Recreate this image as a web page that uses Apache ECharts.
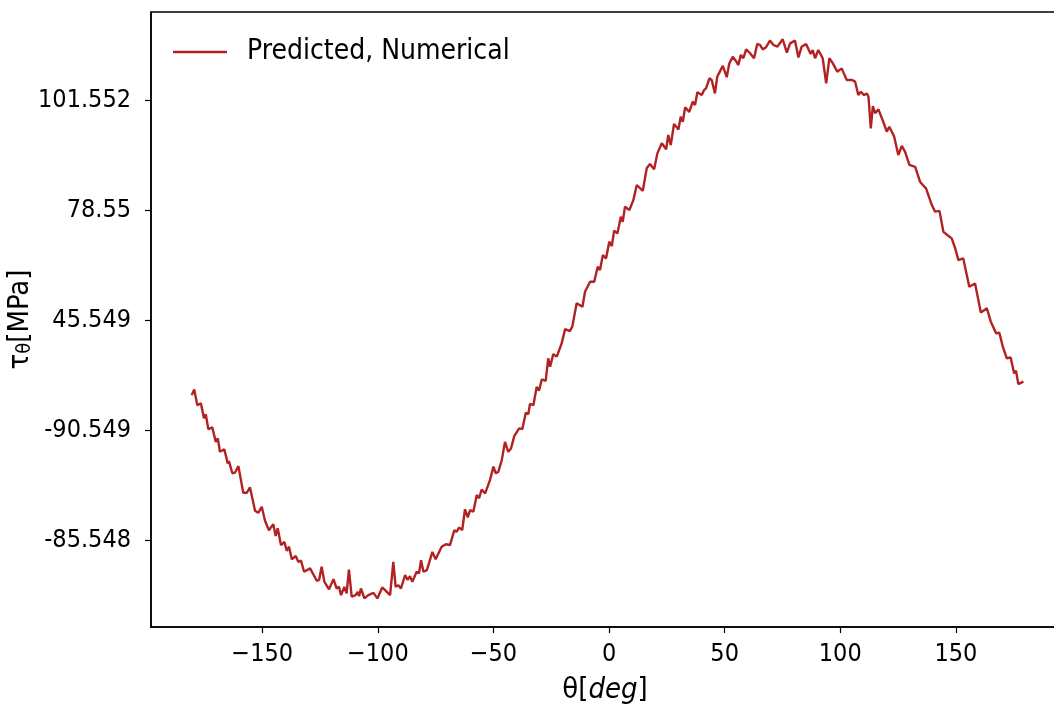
<!DOCTYPE html>
<html>
<head>
<meta charset="utf-8">
<script src="https://cdn.jsdelivr.net/npm/echarts@6/dist/echarts.min.js"></script>
<style>
html,body{margin:0;padding:0;background:#fff;}
#chart{width:1054px;height:713px;}
</style>
</head>
<body>
<div id="chart"></div>
<script>
// θ [deg]
const thetaDeg = [
-180.5,-179.4,-178.1,-176.5,-175.2,-174.4,-173.3,-171.6,-170.1,-169.2,-168.3,-166.4,-164.9,-164.4,-162.9,-161.8,-160.3,-158.2,-156.7,-155.3,
-153.1,-151.7,-150.2,-148.8,-147.1,-145.2,-144.2,-143.3,-141.9,-140.4,-139.4,-138.4,-137.2,-135.5,-134.4,-133.2,-131.9,-129.3,-126.4,-125.4,
-124.3,-123.1,-121.1,-119.2,-117.8,-116.8,-115.9,-114.5,-113.5,-112.5,-111.3,-109.6,-108.7,-108.1,-107.3,-105.8,-104.1,-101.9,-100.2,-98.1,
-96.1,-94.7,-93.3,-92.3,-91.1,-90.0,-88.2,-87.1,-86.1,-85.1,-83.2,-82.2,-81.3,-80.3,-78.8,-77.9,-76.4,-75.0,-72.4,-70.6,
-68.8,-66.9,-65.9,-64.9,-63.5,-62.3,-61.1,-60.1,-58.7,-57.2,-56.2,-55.1,-53.6,-51.5,-50.0,-49.0,-47.9,-46.4,-45.0,-43.6,
-42.4,-41.0,-38.9,-37.5,-36.0,-34.9,-34.2,-32.7,-31.3,-30.3,-29.1,-27.4,-26.3,-25.5,-24.1,-22.6,-20.5,-19.0,-16.9,-15.9,
-14.0,-11.5,-10.4,-8.2,-6.4,-4.9,-3.9,-2.7,-1.3,0.1,1.2,2.2,3.6,5.1,5.9,6.9,8.8,10.5,12.0,14.6,
16.3,17.7,19.5,20.9,22.8,24.7,25.6,26.7,28.1,30.0,31.0,31.9,32.9,34.7,36.2,37.2,38.2,40.1,41.1,42.0,
43.4,44.4,45.8,46.8,49.2,50.9,52.0,53.5,55.2,55.9,57.0,58.1,59.3,61.0,62.7,64.1,65.3,66.5,67.9,69.6,
71.1,72.8,75.1,76.9,78.3,80.4,81.9,83.3,85.2,87.2,88.1,89.1,90.5,92.4,93.9,95.3,96.8,98.7,100.6,102.8,
105.0,106.4,107.8,108.9,110.3,111.5,112.2,113.2,114.1,115.1,116.5,118.6,120.1,121.2,123.3,125.1,126.6,128.0,129.9,132.4,
134.5,135.7,137.1,139.6,141.0,142.9,144.6,146.3,148.2,149.7,151.1,153.2,155.8,158.3,160.8,163.4,165.1,167.4,168.8,170.3,
172.0,173.7,175.2,176.0,177.0,179.2
];
// τθ [MPa]
const tauMPa = [
-27.3,-25.2,-30.9,-30.3,-35.7,-34.3,-39.7,-39.0,-44.3,-43.0,-47.9,-47.0,-52.1,-51.3,-55.7,-55.5,-53.1,-62.8,-62.8,-60.8,
-69.3,-70.1,-67.9,-73.0,-76.4,-74.2,-78.5,-75.7,-81.8,-80.7,-83.9,-82.4,-87.0,-85.8,-87.9,-87.5,-91.5,-90.3,-94.8,-94.5,
-89.7,-95.2,-97.9,-94.2,-97.6,-97.0,-100.0,-97.0,-99.4,-90.7,-100.6,-100.0,-98.8,-100.4,-97.6,-101.2,-100.0,-99.2,-101.2,-97.2,
-98.8,-100.0,-87.9,-97.0,-96.4,-97.6,-92.7,-94.5,-93.1,-95.2,-91.5,-92.1,-87.3,-91.5,-90.9,-88.5,-84.3,-87.0,-82.4,-81.5,
-81.8,-76.4,-77.0,-75.4,-76.4,-68.8,-71.7,-69.1,-69.7,-63.6,-64.8,-61.6,-63.0,-58.2,-53.3,-55.7,-55.2,-50.9,-44.3,-47.9,
-46.7,-42.2,-39.4,-39.6,-33.7,-34.2,-30.5,-30.9,-24.3,-25.7,-21.6,-22.1,-13.9,-17.0,-12.4,-13.3,-8.5,-3.3,-4.0,-2.4,
6.1,4.8,10.3,13.9,13.9,19.4,18.2,23.6,22.4,28.5,26.9,32.5,31.5,37.6,35.7,41.2,40.0,43.6,49.1,47.0,
55.2,56.7,54.8,60.6,64.3,62.1,67.3,63.6,71.3,69.3,73.9,72.1,77.3,75.7,79.4,78.2,82.8,81.8,83.6,84.3,
87.9,87.3,82.4,88.5,92.4,88.3,93.3,95.7,93.8,92.7,96.4,95.2,98.4,97.0,95.2,100.4,100.0,98.4,99.2,101.6,
100.0,99.4,102.1,97.2,100.6,101.6,95.5,99.4,100.4,96.7,98.2,95.2,98.2,95.2,86.1,95.2,93.3,90.3,91.5,87.3,
87.3,86.7,81.8,83.0,81.8,82.4,81.2,69.7,77.8,75.2,76.6,72.1,68.5,70.3,66.7,60.0,63.3,61.2,56.4,55.7,
50.3,49.1,47.9,41.8,39.4,39.7,32.1,30.9,29.7,26.1,21.8,22.4,12.1,13.3,2.7,4.3,-0.6,-4.8,-4.6,-9.7,
-13.9,-13.6,-19.4,-18.4,-23.3,-22.4
];
const xTickValues = [-150, -100, -50, 0, 50, 100, 150];
const yTickValues = [-80, -40, 0, 40, 80];
const yTickLabels = ['-85.548', '-90.549', '45.549', '78.55', '101.552'];
const seriesName = 'Predicted, Numerical';

const seriesData = thetaDeg.map((t, i) => [t, tauMPa[i]]);
const FONT = '"DejaVu Sans Condensed", "DejaVu Sans", sans-serif';

const chart = echarts.init(document.getElementById('chart'), null, {renderer: 'canvas'});
chart.setOption({
  animation: false,
  backgroundColor: '#ffffff',
  grid: {left: 151, right: -5, top: 12, bottom: 86, containLabel: false, outerBoundsMode: 'none',
    show: true, borderColor: '#000', borderWidth: 1.5, backgroundColor: 'transparent'},
  legend: {
    left: 173, top: 38, padding: 0, itemWidth: 54, itemHeight: 14, icon: 'path://M0,6 L54,6 L54,8.4 L0,8.4 Z',
    data: [{name: seriesName, itemStyle: {color: '#b22222'}}],
    textStyle: {fontFamily: FONT, fontSize: 28, color: '#000', padding: [0, 0, 0, 15]}
  },
  xAxis: {
    type: 'value', min: -198.1, max: 194.6,
    name: '{n|θ[}{i|deg}{n|]}', nameLocation: 'middle', nameGap: 49, nameMoveOverlap: false,
    nameTextStyle: {rich: {n: {fontFamily: FONT, fontSize: 29, color: '#000'}, i: {fontFamily: FONT, fontSize: 29, fontStyle: 'italic', color: '#000'}}},
    axisLine: {show: true, onZero: false, lineStyle: {color: '#000', width: 1.5}},
    axisTick: {show: true, inside: false, length: 6, lineStyle: {color: '#000', width: 1.2}, customValues: xTickValues},
    axisLabel: {margin: 15, fontFamily: FONT, fontSize: 25, color: '#000', customValues: xTickValues,
      formatter: v => (v < 0 ? '\u2212' + Math.abs(v) : String(v))},
    splitLine: {show: false}
  },
  yAxis: {
    type: 'value', min: -111.6, max: 112,
    name: '{a|τ}{s|θ}{a|[MPa]}', nameLocation: 'middle', nameGap: 116, nameRotate: 90, nameMoveOverlap: false,
    nameTextStyle: {rich: {a: {fontFamily: FONT, fontSize: 29, color: '#000'}, s: {fontFamily: FONT, fontSize: 20, color: '#000', verticalAlign: 'bottom', padding: [9, 0, 0, 0]}}},
    axisLine: {show: true, onZero: false, lineStyle: {color: '#000', width: 1.5}},
    axisTick: {show: true, inside: false, length: 6, lineStyle: {color: '#000', width: 1.2}, customValues: yTickValues},
    axisLabel: {margin: 20, fontFamily: FONT, fontSize: 25, color: '#000', customValues: yTickValues,
      formatter: v => { const i = yTickValues.indexOf(v); return i >= 0 ? yTickLabels[i] : ''; }},
    splitLine: {show: false}
  },
  series: [{
    name: seriesName, type: 'line', data: seriesData, showSymbol: false, symbol: 'none',
    lineStyle: {color: '#b22222', width: 2.4}, itemStyle: {color: '#b22222'}, clip: true
  }]
});
</script>
</body>
</html>
